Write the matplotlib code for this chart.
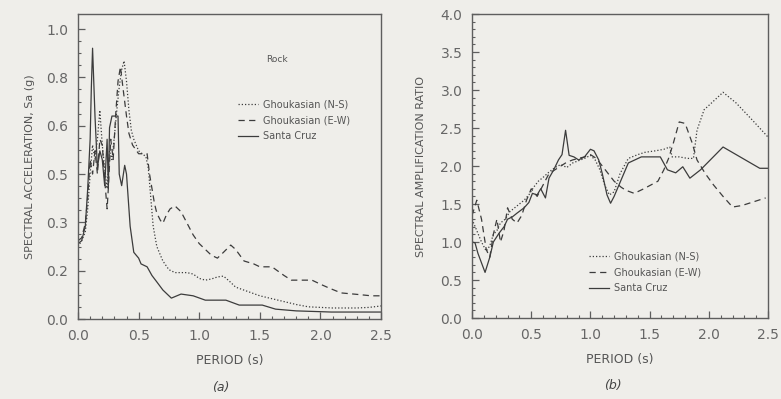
import matplotlib.pyplot as plt
plt.switch_backend('agg')
import numpy as np

# (a) spectral acceleration, Sa (g), rock records
period_ns = [0.0, 0.03, 0.06, 0.08, 0.10, 0.12, 0.14, 0.16, 0.18, 0.20, 0.22, 0.24, 0.26, 0.28,
             0.30, 0.32, 0.34, 0.36, 0.38, 0.40, 0.42, 0.44, 0.46, 0.48, 0.50, 0.53, 0.56, 0.58,
             0.60, 0.62, 0.65, 0.70, 0.75, 0.80, 0.85, 0.90, 0.95, 1.00, 1.05, 1.10, 1.15, 1.20,
             1.25, 1.30, 1.40, 1.50, 1.60, 1.70, 1.80, 1.90, 2.00, 2.10, 2.20, 2.30, 2.40, 2.50]
sa_ns = [0.25, 0.27, 0.30, 0.38, 0.50, 0.60, 0.55, 0.62, 0.72, 0.60, 0.52, 0.45, 0.58, 0.55,
         0.63, 0.72, 0.80, 0.86, 0.89, 0.82, 0.72, 0.65, 0.62, 0.60, 0.58, 0.57, 0.56, 0.52,
         0.42, 0.32, 0.25, 0.20, 0.17, 0.16, 0.16, 0.16, 0.155, 0.14, 0.134, 0.138, 0.145, 0.148,
         0.13, 0.11, 0.095, 0.08, 0.07, 0.06, 0.05, 0.042, 0.04, 0.038, 0.038, 0.038, 0.04, 0.045]

period_ew = [0.0, 0.03, 0.06, 0.08, 0.10, 0.12, 0.14, 0.16, 0.18, 0.20, 0.22, 0.24, 0.25, 0.27,
             0.29, 0.31, 0.33, 0.35, 0.37, 0.40, 0.42, 0.45, 0.50, 0.54, 0.57, 0.59, 0.61, 0.63,
             0.65, 0.68, 0.70, 0.73, 0.76, 0.80, 0.85, 0.90, 0.95, 1.00, 1.05, 1.10, 1.15, 1.20,
             1.26, 1.30, 1.37, 1.45, 1.50, 1.55, 1.60, 1.65, 1.70, 1.76, 1.85, 1.93, 2.00, 2.07,
             2.17, 2.30, 2.42, 2.50]
sa_ew = [0.27, 0.28, 0.33, 0.42, 0.55, 0.50, 0.58, 0.50, 0.62, 0.60, 0.48, 0.38, 0.45, 0.62,
         0.55, 0.70, 0.82, 0.87, 0.80, 0.70, 0.64, 0.60, 0.57, 0.57, 0.57, 0.50, 0.45, 0.40,
         0.365, 0.34, 0.33, 0.36, 0.38, 0.39, 0.37, 0.33, 0.29, 0.26, 0.24, 0.22, 0.21, 0.23,
         0.255, 0.24, 0.20, 0.19, 0.18, 0.18, 0.18, 0.165, 0.15, 0.134, 0.134, 0.134, 0.12, 0.107,
         0.09, 0.085, 0.08, 0.08]

period_sc = [0.0, 0.03, 0.06, 0.08, 0.10, 0.11, 0.12, 0.14, 0.16, 0.18, 0.20, 0.22, 0.24, 0.25,
             0.26, 0.28, 0.31, 0.33, 0.34, 0.36, 0.385, 0.40, 0.43, 0.46, 0.50, 0.52, 0.57, 0.61,
             0.65, 0.70, 0.77, 0.85, 0.95, 1.05, 1.22, 1.33, 1.52, 1.63, 1.80, 2.09, 2.30, 2.50]
sa_sc = [0.26, 0.27, 0.32, 0.45, 0.62, 0.80, 0.934, 0.70, 0.52, 0.58, 0.55, 0.46, 0.62, 0.45,
         0.66, 0.70, 0.70, 0.70, 0.50, 0.46, 0.53, 0.50, 0.32, 0.23, 0.21, 0.19, 0.18, 0.15,
         0.128, 0.10, 0.072, 0.086, 0.08, 0.065, 0.065, 0.048, 0.048, 0.034, 0.028, 0.024, 0.024, 0.024]

# (b) spectral amplification ratio
ratio_x_ns = [0.0, 0.04, 0.08, 0.12, 0.15, 0.18, 0.21, 0.24, 0.28, 0.32, 0.36, 0.40, 0.44, 0.48,
              0.52, 0.56, 0.60, 0.65, 0.70, 0.75, 0.80, 0.85, 0.90, 0.95, 1.00, 1.04, 1.08, 1.12,
              1.16, 1.20, 1.25, 1.32, 1.40, 1.46, 1.55, 1.62, 1.67, 1.69, 1.75, 1.82, 1.87, 1.90,
              1.96, 2.03, 2.12, 2.23, 2.37, 2.50]
ratio_ns = [1.30, 1.15, 1.00, 0.88, 0.95, 1.10, 1.15, 1.25, 1.30, 1.40, 1.45, 1.50, 1.55, 1.62,
            1.72, 1.80, 1.85, 1.92, 1.98, 2.02, 1.98, 2.04, 2.07, 2.10, 2.14, 2.08, 1.95, 1.75,
            1.62, 1.66, 1.90, 2.10, 2.15, 2.18, 2.20, 2.22, 2.25, 2.12, 2.12, 2.10, 2.10, 2.47,
            2.74, 2.84, 2.97, 2.83, 2.60, 2.38]

ratio_x_ew = [0.0, 0.04, 0.08, 0.12, 0.15, 0.18, 0.21, 0.24, 0.27, 0.30, 0.34, 0.38, 0.42, 0.46,
              0.50, 0.55, 0.60, 0.65, 0.70, 0.75, 0.80, 0.85, 0.90, 0.95, 1.00, 1.05, 1.10, 1.15,
              1.20, 1.26, 1.30, 1.37, 1.45, 1.51, 1.57, 1.62, 1.66, 1.70, 1.75, 1.80, 1.86, 1.90,
              1.97, 2.04, 2.12, 2.20, 2.28, 2.34, 2.42, 2.48]
ratio_ew = [1.35, 1.55, 1.30, 0.90, 0.80, 1.10, 1.30, 1.00, 1.15, 1.45, 1.30, 1.25, 1.35, 1.55,
            1.70, 1.60, 1.75, 1.90, 1.95, 2.00, 2.05, 2.08, 2.10, 2.12, 2.15, 2.10, 2.00, 1.90,
            1.80, 1.72, 1.68, 1.64, 1.70, 1.75, 1.80, 1.95, 2.10, 2.30, 2.58, 2.56, 2.30, 2.08,
            1.90, 1.75, 1.60, 1.46, 1.48, 1.51, 1.55, 1.58]

ratio_x_sc = [0.0, 0.025, 0.05, 0.11, 0.15, 0.18, 0.23, 0.27, 0.30, 0.34, 0.38, 0.44, 0.48, 0.51,
              0.55, 0.58, 0.62, 0.65, 0.69, 0.73, 0.76, 0.79, 0.82, 0.86, 0.90, 0.95, 1.00, 1.03,
              1.07, 1.10, 1.14, 1.17, 1.20, 1.26, 1.32, 1.43, 1.59, 1.65, 1.72, 1.78, 1.84, 1.93,
              2.12, 2.43, 2.50]
ratio_sc = [1.00, 0.99, 0.85, 0.60, 0.80, 1.00, 1.12, 1.20, 1.30, 1.33, 1.38, 1.45, 1.52, 1.64,
            1.62, 1.70, 1.58, 1.84, 1.95, 2.08, 2.15, 2.47, 2.14, 2.12, 2.08, 2.12, 2.22, 2.20,
            2.08, 1.90, 1.62, 1.51, 1.60, 1.82, 2.04, 2.12, 2.12, 1.95, 1.91, 1.99, 1.84, 1.95,
            2.25, 1.97, 1.97]

record_names = ['Ghoukasian (N-S)', 'Ghoukasian (E-W)', 'Santa Cruz']
sa_ticks = [0.0, 1/6, 2/6, 3/6, 4/6, 5/6, 1.0]
sa_tick_labels = ['0.0', '0.2', '0.3', '0.5', '0.6', '0.8', '1.0']

paper = '#efeeea'
ink = '#3c3c3c'
grey = '#5e5e5e'
styles = [(0, (1, 1.6)), (0, (5, 3.5)), '-']

fig = plt.figure(figsize=(7.81, 3.99), dpi=100, facecolor=paper)
ax1 = fig.add_axes([0.0999, 0.2005, 0.388, 0.7644])
ax2 = fig.add_axes([0.6044, 0.2030, 0.3790, 0.7619])


def style_axes(ax):
    ax.set_facecolor(paper)
    for s in ax.spines.values():
        s.set_color(grey)
        s.set_linewidth(1.0)
    ax.tick_params(which='both', direction='in', colors=grey, labelcolor='#666666')
    ax.tick_params(which='major', length=5, width=0.9, labelsize=10, pad=7)
    ax.tick_params(which='minor', length=2.5, width=0.8)
    ax.set_xlim(0, 2.5)
    ax.set_xticks(np.arange(0, 2.51, 0.5))
    ax.set_xticks(np.arange(0, 2.51, 0.1), minor=True)
    ax.set_xticklabels(['0.0', '0.5', '1.0', '1.5', '2.0', '2.5'])
    ax.set_xlabel('PERIOD (s)', fontsize=9, color='#555555', labelpad=8)


# panel (a)
style_axes(ax1)
ax1.plot(period_ns, sa_ns, color=ink, lw=0.9, ls=styles[0], label=record_names[0])
ax1.plot(period_ew, sa_ew, color=ink, lw=0.9, ls=styles[1], label=record_names[1])
ax1.plot(period_sc, sa_sc, color=ink, lw=0.9, ls=styles[2], label=record_names[2])
ax1.set_ylim(0, 1.052)
ax1.set_yticks(sa_ticks)
ax1.set_yticklabels(sa_tick_labels)
ax1.set_yticks(np.arange(0, 1.001, 1/24), minor=True)
ax1.set_ylabel('SPECTRAL ACCELERATION, Sa (g)', fontsize=8, color='#555555', labelpad=8)
ax1.text(0.657, 0.852, 'Rock', transform=ax1.transAxes, fontsize=6.5, color='#555555',
         ha='center', va='center')
ax1.legend(loc='upper left', bbox_to_anchor=(0.513, 0.735), frameon=False, fontsize=7,
           handlelength=2.0, handletextpad=0.5, labelspacing=0.6, borderpad=0,
           labelcolor='#555555')
fig.text(0.282, 0.02, '(a)', fontsize=9, style='italic', color='#444444', ha='center')

# panel (b)
style_axes(ax2)
ax2.plot(ratio_x_ns, ratio_ns, color=ink, lw=0.9, ls=styles[0], label=record_names[0])
ax2.plot(ratio_x_ew, ratio_ew, color=ink, lw=0.9, ls=styles[1], label=record_names[1])
ax2.plot(ratio_x_sc, ratio_sc, color=ink, lw=0.9, ls=styles[2], label=record_names[2])
ax2.set_ylim(0, 4.0)
ax2.set_yticks(np.arange(0, 4.01, 0.5))
ax2.set_yticklabels(['%.1f' % v for v in np.arange(0, 4.01, 0.5)])
ax2.set_yticks(np.arange(0, 4.01, 0.1), minor=True)
ax2.set_ylabel('SPECTRAL AMPLIFICATION RATIO', fontsize=8, color='#555555', labelpad=10)
ax2.legend(loc='upper left', bbox_to_anchor=(0.38, 0.235), frameon=False, fontsize=7,
           handlelength=2.0, handletextpad=0.5, labelspacing=0.6, borderpad=0,
           labelcolor='#555555')
fig.text(0.785, 0.025, '(b)', fontsize=9, style='italic', color='#444444', ha='center')

fig.savefig('out.png', dpi=100, facecolor=paper)
